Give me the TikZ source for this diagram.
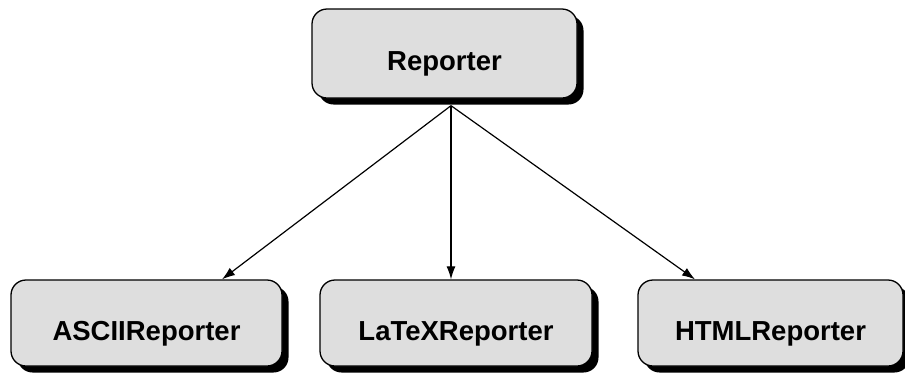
\documentclass[tikz,border=0pt]{standalone}
\usepackage{fontspec}
\setmainfont{Liberation Sans}
\usetikzlibrary{arrows.meta,shadows,calc}
\begin{document}
\begin{tikzpicture}[x=1pt,y=-1pt,
  cls/.style={draw=black, line width=1.3pt, fill=boxgray, rounded corners=15pt,
    drop shadow={shadow xshift=6.5pt, shadow yshift=-6.5pt, fill=black, opacity=1},
    inner sep=0pt, text height=34pt, text depth=0pt,
    font=\fontsize{27.5}{32}\selectfont\bfseries},
  conn/.style={line width=1.2pt, -{Latex[length=13pt,width=9pt]}}]
\definecolor{boxgray}{HTML}{DEDEDE}
\useasboundingbox (0,0) rectangle (905,373);
\node[cls, minimum width=265pt, minimum height=89pt] (rep) at (444.5,53.5) {Reporter};
\node[cls, minimum width=271pt, minimum height=86pt] (ascii) at (146.5,323) {ASCIIReporter};
\node[cls, minimum width=272pt, minimum height=86pt] (latex) at (456,323) {LaTeXReporter};
\node[cls, minimum width=265pt, minimum height=86pt] (html) at (770.5,323) {HTMLReporter};
\coordinate (src) at ($(rep.south)+(6.5,7)$);
\coordinate (ta) at ($(ascii.north)+(75.5,0)$);
\coordinate (tl) at ($(latex.north)+(-5,0)$);
\coordinate (th) at ($(html.north)+(-75.5,0)$);
\draw[conn] (src) -- (ta);
\draw[conn] (src) -- (tl);
\draw[conn] (src) -- (th);
\end{tikzpicture}
\end{document}
